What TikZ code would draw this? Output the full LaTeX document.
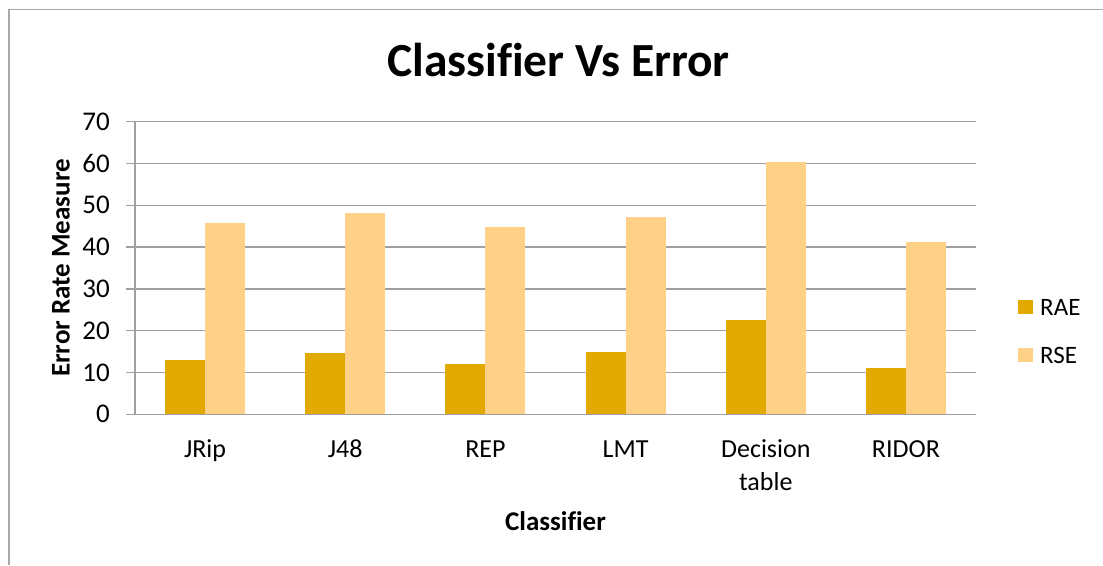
\documentclass[tikz,border=0pt]{standalone}
\usepackage{fontspec}
\setmainfont{Carlito}[Ligatures=NoCommon]
\usepackage{xcolor}
\definecolor{raecol}{RGB}{226,170,0}
\definecolor{rsecol}{RGB}{255,208,136}
\definecolor{gridcol}{RGB}{160,160,160}
\definecolor{framecol}{RGB}{168,168,168}

\begin{document}
\begin{tikzpicture}[x=1pt,y=-1pt,
    gridline/.style={gridcol,line width=1.3pt},
    ticklab/.style={anchor=east,inner sep=0pt,font=\fontsize{27}{32}\selectfont},
    catlab/.style={anchor=base,inner sep=0pt,align=center,font=\fontsize{26}{33}\selectfont},
    axlab/.style={anchor=base,inner sep=0pt,font=\bfseries\fontsize{27}{32}\selectfont},
    keylab/.style={anchor=west,inner sep=0pt,font=\fontsize{25}{30}\selectfont}]
        \useasboundingbox (0,0) rectangle (1103,565);
        % frame
        \draw[framecol,line width=1.2pt] (9,565) -- (9,9.5) -- (1103,9.5);
        % grid and ticks
        \foreach \v in {0,10,...,70} {
          \draw[gridline] (126,414.3-\v*4.18) -- (976,414.3-\v*4.18);
          \node[ticklab] (tick\v) at (110,414.3-\v*4.18) {\v};
        }
        % bars (label y = baseline of the last line)
        \foreach \i/\rae/\rse/\ly/\lab in {0/13.0/45.7/457.5/JRip,1/14.7/48.2/457.5/J48,2/12.0/44.9/457.5/REP,
                                     3/14.9/47.1/457.5/LMT,4/22.6/60.3/490.5/{Decision\\table},5/11.1/41.2/457.5/RIDOR} {
          \pgfmathsetmacro\cx{135+140.17*(\i+0.5)}
          \fill[raecol] (\cx-40,414.3) rectangle (\cx,414.3-\rae*4.18);
          \fill[rsecol] (\cx,414.3) rectangle (\cx+40,414.3-\rse*4.18);
          \node[catlab] (cat\i) at (\cx,\ly) {\lab};
        }
        % axes
        \draw[gridline] (135,121.7) -- (135,414.3);
        \draw[gridline] (126,414.3) -- (976,414.3);
        \node[anchor=base,inner sep=0pt,font=\bfseries\fontsize{47.5}{56}\selectfont] (title) at (558.5,76.5) {Classifier Vs Error};
        \node[axlab] (xtitle) at (555.5,530) {Classifier};
        \node[axlab,rotate=90] (ytitle) at (69.5,268) {Error Rate Measure};
        % legend
        \fill[raecol] (1018,300) rectangle (1032.7,314.3);
        \node[keylab] (keyrae) at (1040,307.2) {RAE};
        \fill[rsecol] (1018,348) rectangle (1032.7,362.3);
        \node[keylab] (keyrse) at (1040,355.2) {RSE};
      \end{tikzpicture}
\end{document}
